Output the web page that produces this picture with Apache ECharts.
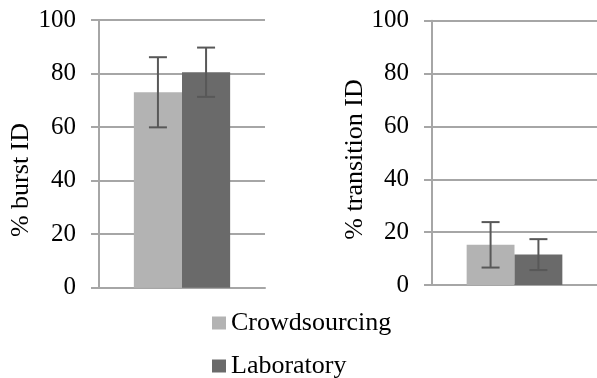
<!DOCTYPE html>
<html>
<head>
<meta charset="utf-8">
<script src="https://cdn.jsdelivr.net/npm/echarts@6/dist/echarts.min.js"></script>
<style>
html,body{margin:0;padding:0;background:#fff;}
#c{width:597px;height:378px;}
</style>
</head>
<body>
<div id="c"></div>
<script>
// ---- data ----
var panelTitles = ['% burst ID', '% transition ID'];
var seriesNames = ['Crowdsourcing', 'Laboratory'];
var crowdMeans = [73.0, 15.2];
var crowdErrors = [13.1, 8.6];
var labMeans = [80.5, 11.5];
var labErrors = [9.2, 5.85];
var yTicks = [0, 20, 40, 60, 80, 100];

var FONT = "'Liberation Serif', 'Times New Roman', serif";
var lightColor = '#b3b3b3';
var darkColor = '#6a6a6a';
var gridColor = '#a6a6a6';
var errColor = '#585858';
var gapPct = 0.42;

var chart = echarts.init(document.getElementById('c'), null, {renderer: 'canvas'});

var grids = [
  {left: 99, top: 20, width: 166, height: 267.7},
  {left: 432, top: 20.7, width: 169, height: 264.3}
];

function yAxisFor(i) {
  return {
    type: 'value', gridIndex: i, min: yTicks[0], max: yTicks[yTicks.length - 1], interval: 20,
    axisLine: {show: true, lineStyle: {color: gridColor, width: 2}},
    axisTick: {show: true, length: 8, lineStyle: {color: gridColor, width: 2}},
    splitLine: {show: true, lineStyle: {color: gridColor, width: 2}},
    axisLabel: {fontFamily: FONT, fontSize: 25, color: '#000', margin: 23}
  };
}
function xAxisFor(i) {
  return {
    type: 'category', gridIndex: i, data: [panelTitles[i]],
    axisLine: {show: true, lineStyle: {color: gridColor, width: 2}},
    axisTick: {show: false}, axisLabel: {show: false}
  };
}

function errSeries(panel, means, errs, sign, name) {
  return {
    type: 'custom', xAxisIndex: panel, yAxisIndex: panel, z: 10,
    name: name + ' error', silent: true,
    data: [[0, means[panel] - errs[panel], means[panel] + errs[panel]]],
    renderItem: function (params, api) {
      var band = api.size([1, 0])[0];
      var bw = band * (1 - gapPct) / 2;
      var lo = api.coord([api.value(0), api.value(1)]);
      var hi = api.coord([api.value(0), api.value(2)]);
      var x = lo[0] + sign * bw / 2;
      var cap = 9;
      var st = {stroke: errColor, lineWidth: 2};
      return {type: 'group', children: [
        {type: 'line', shape: {x1: x, y1: lo[1], x2: x, y2: hi[1]}, style: st},
        {type: 'line', shape: {x1: x - cap, y1: lo[1], x2: x + cap, y2: lo[1]}, style: st},
        {type: 'line', shape: {x1: x - cap, y1: hi[1], x2: x + cap, y2: hi[1]}, style: st}
      ]};
    }
  };
}

var series = [];
for (var p = 0; p < 2; p++) {
  series.push({
    type: 'bar', name: seriesNames[0], xAxisIndex: p, yAxisIndex: p,
    data: [crowdMeans[p]], itemStyle: {color: lightColor},
    barGap: '0%', barCategoryGap: (gapPct * 100) + '%'
  });
  series.push({
    type: 'bar', name: seriesNames[1], xAxisIndex: p, yAxisIndex: p,
    data: [labMeans[p]], itemStyle: {color: darkColor},
    barGap: '0%', barCategoryGap: (gapPct * 100) + '%'
  });
  series.push(errSeries(p, crowdMeans, crowdErrors, -1, seriesNames[0]));
  series.push(errSeries(p, labMeans, labErrors, 1, seriesNames[1]));
}

chart.setOption({
  animation: false,
  backgroundColor: '#fff',
  grid: grids,
  xAxis: [xAxisFor(0), xAxisFor(1)],
  yAxis: [yAxisFor(0), yAxisFor(1)],
  legend: {
    data: seriesNames, orient: 'vertical', left: 212, top: 310, height: 120, padding: 0,
    icon: 'rect', itemWidth: 14, itemHeight: 13, itemGap: 17,
    textStyle: {fontFamily: FONT, fontSize: 26, color: '#000', lineHeight: 25},
    selectedMode: false
  },
  graphic: [
    {type: 'text', x: 21, y: 180, rotation: Math.PI / 2,
     style: {text: panelTitles[0], font: '26px ' + FONT, fill: '#000', align: 'center', verticalAlign: 'middle'}},
    {type: 'text', x: 355, y: 159.5, rotation: Math.PI / 2,
     style: {text: panelTitles[1], font: '26px ' + FONT, fill: '#000', align: 'center', verticalAlign: 'middle'}}
  ],
  series: series
});
</script>
</body>
</html>
